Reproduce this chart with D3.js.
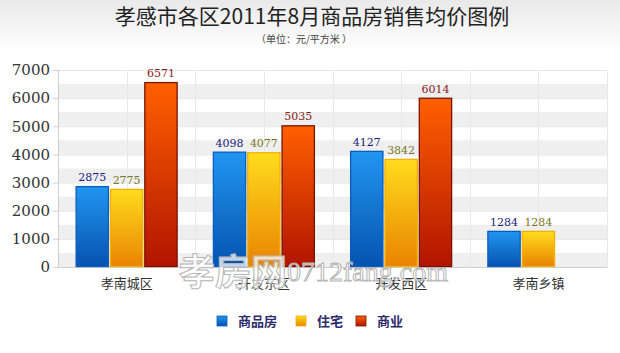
<!DOCTYPE html>
<html>
<head>
<meta charset="utf-8">
<script src="https://cdn.jsdelivr.net/npm/d3@7"></script>
<style>
  body { margin: 0; background: #fff; }
  #chart { width: 620px; height: 353px; }
</style>
</head>
<body>
<div id="chart"></div>
<script>
// data
var districts = ["孝南城区", "开发东区", "开发西区", "孝南乡镇"];
var seriesNames = ["商品房", "住宅", "商业"];
var commodity = [2875, 4098, 4127, 1284];
var residential = [2775, 4077, 3842, 1284];
var commercial = [6571, 5035, 6014, 0];
var yTicks = [0, 1000, 2000, 3000, 4000, 5000, 6000, 7000];

var width = 620, height = 353;
var margin = { top: 70, right: 13, bottom: 86, left: 58 };
var plotW = width - margin.left - margin.right;
var plotH = height - margin.top - margin.bottom;

var svg = d3.select("#chart").append("svg")
    .attr("width", width)
    .attr("height", height);

var defs = svg.append("defs");

// header background
var hg = defs.append("linearGradient").attr("id", "hdr").attr("x1", 0).attr("y1", 0).attr("x2", 0).attr("y2", 1);
hg.append("stop").attr("offset", "0%").attr("stop-color", "#e9e9e9");
hg.append("stop").attr("offset", "100%").attr("stop-color", "#ffffff");
svg.append("rect").attr("width", width).attr("height", 52).attr("fill", "url(#hdr)");

var cols = [
    { id: "gBlue", top: "#2196f0", bot: "#0653b0", stroke: "#0c5cc0", label: "#1c1c78" },
    { id: "gYel", top: "#ffdc1e", bot: "#e98300", stroke: "#f2b100", label: "#7c7624" },
    { id: "gRed", top: "#ff6000", bot: "#b21400", stroke: "#7a1200", label: "#8a1c1c" }
];
cols.forEach(function (c) {
    var g = defs.append("linearGradient").attr("id", c.id).attr("x1", 0).attr("y1", 0).attr("x2", 0).attr("y2", 1);
    g.append("stop").attr("offset", "0%").attr("stop-color", c.top);
    g.append("stop").attr("offset", "100%").attr("stop-color", c.bot);
});

// title
svg.append("text")
    .attr("x", 312).attr("y", 24)
    .attr("text-anchor", "middle")
    .style("font-family", "'Noto Sans CJK SC', 'Liberation Serif', serif")
    .style("font-size", "21px")
    .style("fill", "#222")
    .text("孝感市各区2011年8月商品房销售均价图例");
svg.append("text")
    .attr("x", 304).attr("y", 43)
    .attr("text-anchor", "middle")
    .style("font-family", "'Noto Sans CJK SC', serif")
    .style("font-size", "10px")
    .style("fill", "#444")
    .text("（单位：元/平方米 ）");

var g = svg.append("g").attr("transform", "translate(" + margin.left + "," + margin.top + ")");

var y = d3.scaleLinear().domain([0, 7000]).range([plotH, 0]);
var x0 = d3.scaleBand().domain(districts).range([0, plotW]).padding(0);
var x1 = d3.scaleBand().domain(seriesNames).range([0, 102]).paddingInner(0.03);

// alternating bands every 500
var bands = d3.range(0, 7000, 1000);
g.selectAll(".band").data(bands).enter().append("rect")
    .attr("x", 0).attr("width", plotW)
    .attr("y", function (d) { return y(d + 500); })
    .attr("height", function (d) { return y(d) - y(d + 500); })
    .attr("fill", "#efefef");

// horizontal grid
g.selectAll(".hgrid").data(yTicks).enter().append("line")
    .attr("x1", 0).attr("x2", plotW)
    .attr("y1", function (d) { return y(d) + 0.5; })
    .attr("y2", function (d) { return y(d) + 0.5; })
    .attr("stroke", "#e6e6e6");

// vertical grid at half categories
var vlines = d3.range(0, 9).map(function (i) { return i * plotW / 8; });
g.selectAll(".vgrid").data(vlines).enter().append("line")
    .attr("x1", function (d) { return Math.round(d) + 0.5; })
    .attr("x2", function (d) { return Math.round(d) + 0.5; })
    .attr("y1", 0).attr("y2", plotH)
    .attr("stroke", "#e8e8e8");

// y axis
var yAxis = g.append("g").call(d3.axisLeft(y).tickValues(yTicks).tickSize(5).tickPadding(3).tickFormat(d3.format("d")));
yAxis.select(".domain").attr("stroke", "#cfcfcf");
yAxis.selectAll(".tick line").attr("stroke", "#cfcfcf");
yAxis.selectAll("text")
    .style("font-family", "'DejaVu Serif', serif")
    .style("font-size", "15px")
    .style("fill", "#333");

// x axis
var xAxis = g.append("g").attr("transform", "translate(0," + plotH + ")")
    .call(d3.axisBottom(x0).tickSize(0).tickPadding(12));
xAxis.select(".domain").attr("stroke", "#cfcfcf");
xAxis.selectAll("text")
    .style("font-family", "'Noto Sans CJK SC', sans-serif")
    .style("font-size", "13px")
    .style("fill", "#333");

// bars
var rows = districts.map(function (d, i) {
    return { name: d, values: [commodity[i], residential[i], commercial[i]] };
});
var groups = g.selectAll(".grp").data(rows).enter().append("g")
    .attr("transform", function (d) { return "translate(" + (x0(d.name) + x0.bandwidth() / 2 - 51) + ",0)"; });

groups.selectAll("rect").data(function (d) {
    return d.values.map(function (v, k) { return { key: seriesNames[k], k: k, value: v }; });
}).enter().filter(function (d) { return d.value > 0; }).append("rect")
    .attr("x", function (d) { return x1(d.key) + 0.5; })
    .attr("y", function (d) { return y(d.value) + 0.5; })
    .attr("width", x1.bandwidth() - 1)
    .attr("height", function (d) { return plotH - y(d.value) - 1; })
    .attr("fill", function (d) { return "url(#" + cols[d.k].id + ")"; })
    .attr("stroke", function (d) { return cols[d.k].stroke; })
    .attr("stroke-width", 1.3);

groups.selectAll(".lbl").data(function (d) {
    return d.values.map(function (v, k) { return { key: seriesNames[k], k: k, value: v }; });
}).enter().filter(function (d) { return d.value > 0; }).append("text")
    .attr("x", function (d) { return x1(d.key) + x1.bandwidth() / 2; })
    .attr("y", function (d) { return y(d.value) - 5; })
    .attr("text-anchor", "middle")
    .style("font-family", "'DejaVu Serif', serif")
    .style("font-size", "11px")
    .style("fill", function (d) { return cols[d.k].label; })
    .text(function (d) { return d.value; });

// watermark (drawn over the chart, as in the source image)
var wm = svg.append("g").style("pointer-events", "none");
wm.append("text")
    .attr("x", 179).attr("y", 285)
    .style("font-family", "'Noto Sans CJK SC', sans-serif")
    .style("font-size", "36px")
    .style("font-weight", "bold")
    .style("fill", "rgba(255,255,255,0.75)")
    .style("stroke", "#b5b5b5")
    .style("stroke-width", 1)
    .text("孝房网");
wm.append("text")
    .attr("x", 287).attr("y", 281)
    .style("font-family", "'Liberation Serif', serif")
    .style("font-size", "28px")
    .style("fill", "rgba(255,255,255,0.75)")
    .style("stroke", "#b5b5b5")
    .style("stroke-width", 1)
    .text("0712fang.com");

// legend
var legendX = [217, 296, 356];
var legend = svg.selectAll(".leg").data(seriesNames).enter().append("g")
    .attr("transform", function (d, i) { return "translate(" + legendX[i] + ",316)"; });
legend.append("rect")
    .attr("width", 10).attr("height", 10)
    .attr("fill", function (d, i) { return "url(#" + cols[i].id + ")"; })
    .attr("stroke", function (d, i) { return cols[i].stroke; })
    .attr("stroke-width", 0.8);
legend.append("text")
    .attr("x", 21).attr("y", 10)
    .style("font-family", "'Noto Sans CJK SC', sans-serif")
    .style("font-size", "13px")
    .style("font-weight", "bold")
    .style("fill", "#2b2b6b")
    .text(function (d) { return d; });
</script>
</body>
</html>
